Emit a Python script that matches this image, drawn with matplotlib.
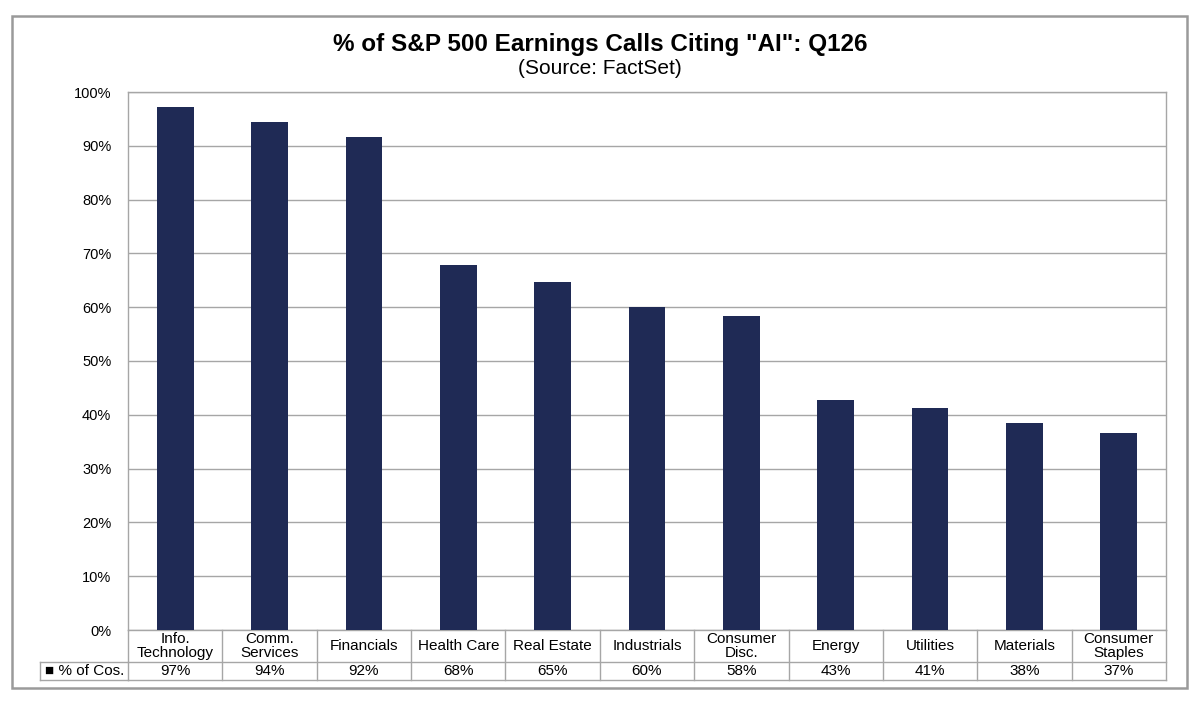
import matplotlib.pyplot as plt
from matplotlib.patches import Rectangle

plt.rcParams['font.family'] = ['Liberation Sans', 'DejaVu Sans']

sectors = ['Info.\nTechnology', 'Comm.\nServices', 'Financials', 'Health Care',
           'Real Estate', 'Industrials', 'Consumer\nDisc.', 'Energy', 'Utilities',
           'Materials', 'Consumer\nStaples']
pct = [97.3, 94.4, 91.7, 67.8, 64.6, 60.1, 58.3, 42.8, 41.3, 38.5, 36.7]
pct_labels = ['97%', '94%', '92%', '68%', '65%', '60%', '58%', '43%', '41%', '38%', '37%']
series_name = '% of Cos.'

navy = '#1F2A55'
gridc = '#A6A6A6'

W, H = 1200, 707
fig = plt.figure(figsize=(12, 7.07), dpi=100)

# plot area in pixels: x 128..1166, y 92..630
ax = fig.add_axes([128 / W, 1 - 630 / H, (1166 - 128) / W, (630 - 92) / H])
x = range(len(sectors))
ax.bar(x, pct, width=0.39, color=navy, zorder=3)
ax.set_xlim(-0.5, len(sectors) - 0.5)
ax.set_ylim(0, 100)
ax.set_yticks(range(0, 101, 10))
ax.set_yticklabels([f'{v}%' for v in range(0, 101, 10)], fontsize=10.5)
ax.yaxis.grid(True, color=gridc, linewidth=1, zorder=0)
ax.tick_params(axis='y', length=0, pad=12)
ax.set_xticks([])
for s in ax.spines.values():
    s.set_color(gridc)
    s.set_linewidth(1)

# data table under the chart
tr = ax.get_xaxis_transform()
r1 = -(662 - 630) / 538
r2 = -(680 - 630) / 538
n = len(sectors)
lk = dict(color=gridc, linewidth=1, clip_on=False, transform=tr)
for b in [i - 0.5 for i in range(n + 1)]:
    ax.plot([b, b], [0, r2], **lk)
ax.plot([-0.5, n - 0.5], [r1, r1], **lk)
ax.plot([-0.5, n - 0.5], [r2, r2], **lk)
left = -(128 - 40) / 1038
ak = dict(color=gridc, linewidth=1, clip_on=False, transform=ax.transAxes)
ax.plot([left, 0], [r1, r1], **ak)
ax.plot([left, 0], [r2, r2], **ak)
ax.plot([left, left], [r1, r2], **ak)
for i, (s, v) in enumerate(zip(sectors, pct_labels)):
    ax.text(i, r1 / 2, s, transform=tr, ha='center', va='center', fontsize=11,
            linespacing=0.95)
    ax.text(i, (r1 + r2) / 2, v, transform=tr, ha='center', va='center', fontsize=11)
ax.text(left + 0.005, (r1 + r2) / 2, '\u25A0 ' + series_name, transform=ax.transAxes,
        ha='left', va='center', fontsize=11)

# title
fig.text(0.5, 1 - 44 / H, '% of S&P 500 Earnings Calls Citing "AI": Q126',
         ha='center', va='center', fontsize=17.5, fontweight='bold')
fig.text(0.5, 1 - 68.5 / H, '(Source: FactSet)', ha='center', va='center', fontsize=15)

# outer chart border
fig.patches.append(Rectangle((12 / W, 1 - 688 / H), (1187 - 12) / W, (688 - 16) / H,
                             transform=fig.transFigure, fill=False,
                             edgecolor='#9A9A9A', linewidth=1.8))

fig.savefig('out.png', dpi=100)
